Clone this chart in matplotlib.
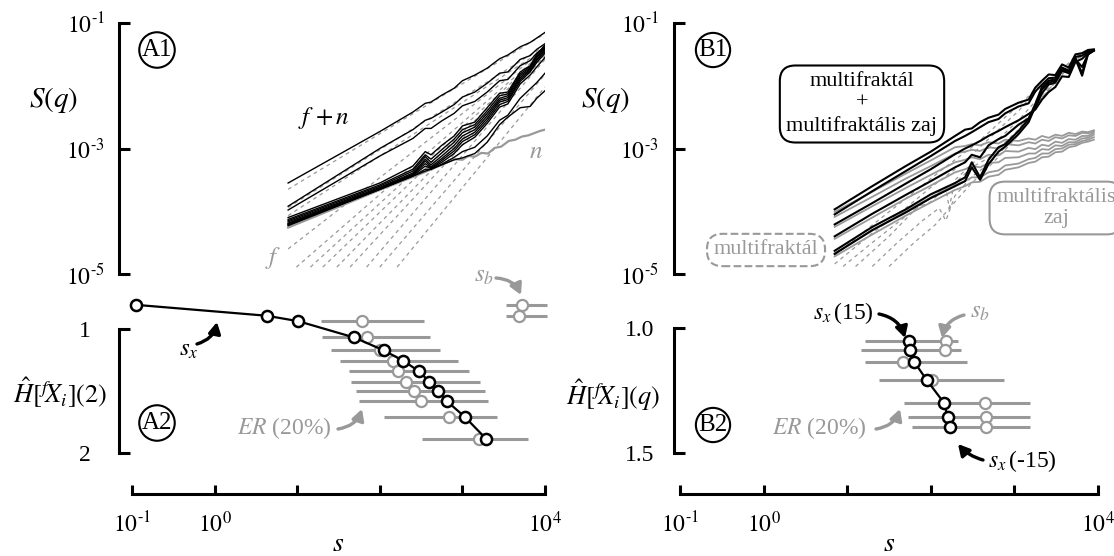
import numpy as np
import matplotlib
matplotlib.use('Agg')
import matplotlib.pyplot as plt
from matplotlib.patches import FancyArrowPatch
from matplotlib.ticker import NullLocator

plt.rcParams['font.family'] = ['Liberation Serif', 'DejaVu Serif']
plt.rcParams['mathtext.fontset'] = 'stix'

GRAY = '#999999'
W, H = 1114, 556

# ---- panel A1 : log10(s) grid and log10 S(q) of the f+n series ----
ls_A = [0.89, 2.0, 2.4, 2.55, 2.62, 2.75, 2.9, 3.0, 3.15, 3.3, 3.45, 3.55, 3.7, 3.82, 3.9, 4.0]
fn_A = [
    [-3.55, -2.73, -2.42, -2.28, -2.26, -2.15, -2.04, -1.92, -1.83, -1.72, -1.57, -1.51, -1.38, -1.31, -1.24, -1.15],
    [-3.92, -3.00, -2.70, -2.55, -2.52, -2.42, -2.30, -2.18, -2.10, -1.96, -1.80, -1.78, -1.58, -1.52, -1.42, -1.33],
    [-3.98, -3.12, -2.84, -2.68, -2.68, -2.56, -2.44, -2.32, -2.25, -2.10, -1.92, -1.90, -1.68, -1.60, -1.48, -1.38],
    [-4.10, -3.55, -3.28, -3.05, -3.10, -2.95, -2.80, -2.64, -2.58, -2.35, -2.12, -2.10, -1.78, -1.68, -1.50, -1.35],
    [-4.13, -3.58, -3.33, -3.10, -3.17, -3.02, -2.85, -2.70, -2.62, -2.40, -2.16, -2.13, -1.81, -1.70, -1.53, -1.38],
    [-4.15, -3.60, -3.36, -3.13, -3.22, -3.07, -2.90, -2.75, -2.66, -2.44, -2.20, -2.16, -1.84, -1.72, -1.55, -1.40],
    [-4.17, -3.62, -3.39, -3.17, -3.26, -3.12, -2.95, -2.80, -2.70, -2.48, -2.23, -2.19, -1.87, -1.74, -1.58, -1.42],
    [-4.19, -3.63, -3.41, -3.20, -3.29, -3.16, -3.00, -2.85, -2.74, -2.52, -2.26, -2.22, -1.90, -1.76, -1.60, -1.45],
    [-4.20, -3.64, -3.42, -3.24, -3.31, -3.19, -3.04, -2.89, -2.78, -2.56, -2.30, -2.25, -1.93, -1.78, -1.63, -1.48],
    [-4.21, -3.65, -3.43, -3.28, -3.32, -3.22, -3.08, -2.94, -2.82, -2.60, -2.34, -2.29, -1.97, -1.83, -1.70, -1.55],
    [-4.22, -3.65, -3.44, -3.33, -3.33, -3.25, -3.14, -3.05, -2.98, -2.80, -2.55, -2.47, -2.20, -2.05, -1.95, -1.80],
    [-4.23, -3.65, -3.44, -3.36, -3.33, -3.26, -3.18, -3.15, -3.08, -2.90, -2.62, -2.50, -2.35, -2.33, -2.20, -2.08],
]
# noise n
ls_nA = [0.89, 2.0, 2.5, 2.91, 3.0, 3.07, 3.15, 3.23, 3.31, 3.39, 3.47, 3.56, 3.64, 3.72, 3.80, 3.88, 3.94, 4.0]
n_A = [-4.26, -3.66, -3.40, -3.17, -3.18, -3.12, -3.13, -3.07, -3.08, -2.99, -2.97, -2.88, -2.86, -2.81, -2.79, -2.75, -2.72, -2.70]
# fitted f lines (start / end)
fA_ls0 = [0.89, 0.89, 0.89, 0.89, 0.99, 1.16, 1.31, 1.48, 1.64, 1.84, 2.00, 2.21]
fA_lS0 = [-3.65, -3.94, -4.07, -4.60, -4.89, -4.89, -4.89, -4.89, -4.89, -4.89, -4.89, -4.89]
fA_ls1 = [4.0, 4.0, 4.0, 4.0, 4.0, 4.0, 4.0, 4.0, 4.0, 4.0, 4.0, 4.0]
fA_lS1 = [-1.17, -1.36, -1.41, -1.42, -1.44, -1.46, -1.48, -1.50, -1.52, -1.58, -1.82, -2.02]

# ---- panel A2 ----
H_A = [0.805, 0.893, 0.937, 1.068, 1.173, 1.257, 1.341, 1.425, 1.50, 1.583, 1.71, 1.885]
sx_A = [-0.955, 0.631, 1.013, 1.688, 2.051, 2.285, 2.475, 2.599, 2.701, 2.814, 3.031, 3.286]
sb_A = [3.718, 3.689, 1.788, 1.849, 2.002, 2.156, 2.224, 2.317, 2.414, 2.495, 2.838, 3.205]
erA_lo = [3.528, 3.528, 1.288, 1.297, 1.409, 1.518, 1.627, 1.651, 1.712, 1.752, 2.054, 2.507]
erA_hi = [4.03, 4.03, 2.535, 2.608, 2.729, 2.950, 3.080, 3.213, 3.274, 3.314, 3.415, 3.798]

# ---- panel B1 ----
ls_B = [0.85, 1.3, 1.7, 2.0, 2.29, 2.41, 2.49, 2.59, 2.69, 2.81, 2.89, 3.05, 3.17, 3.25,
        3.33, 3.41, 3.49, 3.57, 3.65, 3.73, 3.81, 3.88, 3.95]
fn_B = [
    [-3.97, -3.60, -3.28, -3.05, -2.80, -2.70, -2.68, -2.58, -2.51, -2.46, -2.37, -2.27, -2.22, -2.03, -1.92, -1.82, -1.83, -1.66, -1.71, -1.50, -1.48, -1.43, -1.42],
    [-4.05, -3.68, -3.36, -3.12, -2.88, -2.80, -2.74, -2.66, -2.58, -2.53, -2.44, -2.33, -2.28, -2.09, -1.98, -1.88, -1.87, -1.71, -1.76, -1.54, -1.52, -1.45, -1.43],
    [-4.21, -3.87, -3.56, -3.33, -3.09, -3.00, -2.95, -2.88, -2.80, -2.72, -2.66, -2.55, -2.45, -2.38, -2.22, -2.10, -2.02, -1.85, -1.86, -1.62, -1.57, -1.48, -1.44],
    [-4.40, -4.04, -3.74, -3.52, -3.30, -3.22, -3.10, -3.14, -2.95, -2.85, -2.80, -2.62, -2.52, -2.35, -2.12, -1.98, -1.95, -1.76, -1.80, -1.58, -1.70, -1.50, -1.44],
    [-4.63, -4.25, -3.97, -3.73, -3.55, -3.46, -3.22, -3.46, -3.18, -2.98, -2.93, -2.72, -2.53, -2.29, -2.02, -1.92, -1.90, -1.72, -1.78, -1.56, -1.80, -1.48, -1.43],
    [-4.68, -4.30, -4.02, -3.79, -3.60, -3.52, -3.30, -3.50, -3.25, -3.05, -2.97, -2.77, -2.58, -2.33, -2.06, -1.95, -1.92, -1.74, -1.79, -1.57, -1.84, -1.50, -1.44],
]
n_B = [
    [-4.01, -3.69, -3.40, -3.19, -2.98, -2.96, -2.93, -2.95, -2.90, -2.92, -2.86, -2.88, -2.84, -2.86, -2.80, -2.83, -2.78, -2.80, -2.75, -2.77, -2.73, -2.74, -2.71],
    [-4.09, -3.77, -3.48, -3.28, -3.08, -3.05, -3.02, -3.04, -2.98, -3.00, -2.93, -2.95, -2.90, -2.92, -2.86, -2.88, -2.82, -2.84, -2.79, -2.80, -2.75, -2.76, -2.73],
    [-4.25, -3.92, -3.63, -3.42, -3.22, -3.18, -3.14, -3.17, -3.10, -3.11, -3.04, -3.05, -2.99, -3.01, -2.94, -2.96, -2.89, -2.91, -2.85, -2.86, -2.80, -2.80, -2.75],
    [-4.44, -4.10, -3.80, -3.59, -3.38, -3.33, -3.28, -3.30, -3.23, -3.22, -3.15, -3.14, -3.08, -3.08, -3.01, -3.02, -2.95, -2.96, -2.90, -2.90, -2.84, -2.83, -2.78],
    [-4.67, -4.31, -4.00, -3.78, -3.58, -3.52, -3.46, -3.46, -3.38, -3.35, -3.27, -3.24, -3.17, -3.15, -3.08, -3.08, -3.01, -3.00, -2.94, -2.93, -2.88, -2.86, -2.82],
    [-4.72, -4.37, -4.07, -3.86, -3.66, -3.60, -3.54, -3.53, -3.45, -3.42, -3.34, -3.30, -3.23, -3.21, -3.14, -3.13, -3.06, -3.05, -2.98, -2.96, -2.91, -2.89, -2.86],
]
f_B_ls = [
    [0.85, 1.3, 1.7, 2.0, 2.29, 2.49, 2.69, 2.89, 3.05, 3.25, 3.49, 3.73, 3.95],
    [0.85, 1.3, 1.7, 2.0, 2.29, 2.49, 2.69, 2.89, 3.05, 3.25, 3.49, 3.73, 3.95],
    [0.95, 1.3, 1.7, 2.0, 2.18, 2.22, 2.29, 2.49, 2.69, 2.89, 3.05, 3.25, 3.49, 3.73, 3.95],
    [1.1, 1.5, 1.83, 2.0, 2.18, 2.29, 2.49, 2.69, 2.89, 3.05, 3.25, 3.49, 3.73, 3.95],
    [1.3, 1.6, 1.9, 2.1, 2.18, 2.29, 2.49, 2.69, 2.89, 3.05, 3.25, 3.49, 3.73, 3.95],
    [1.5, 1.8, 2.05, 2.29, 2.49, 2.69, 2.89, 3.05, 3.25, 3.49, 3.73, 3.95],
]
f_B = [
    [-4.70, -4.22, -3.80, -3.48, -3.18, -2.98, -2.75, -2.50, -2.32, -2.06, -1.85, -1.53, -1.43],
    [-4.84, -4.35, -3.95, -3.62, -3.33, -3.10, -2.85, -2.60, -2.40, -2.10, -1.88, -1.56, -1.43],
    [-4.88, -4.50, -4.08, -3.78, -3.62, -3.95, -3.50, -3.25, -3.00, -2.75, -2.55, -2.25, -1.92, -1.58, -1.44],
    [-4.88, -4.40, -3.95, -3.85, -3.62, -3.55, -3.30, -3.15, -2.90, -2.70, -2.30, -1.95, -1.58, -1.44],
    [-4.88, -4.50, -4.15, -3.95, -4.15, -3.75, -3.45, -3.25, -2.98, -2.75, -2.32, -1.93, -1.57, -1.43],
    [-4.88, -4.50, -4.22, -3.85, -3.55, -3.30, -3.02, -2.78, -2.33, -1.93, -1.57, -1.43],
]

# ---- panel B2 ----
H_B = [1.053, 1.089, 1.135, 1.208, 1.301, 1.356, 1.395]
sx_B = [1.745, 1.755, 1.80, 1.95, 2.16, 2.20, 2.235]
sb_B = [2.18, 2.17, 1.67, 2.01, 2.65, 2.66, 2.66]
erB_lo = [1.21, 1.17, 1.21, 1.38, 1.68, 1.73, 1.78]
erB_hi = [2.33, 2.36, 2.43, 2.87, 3.19, 3.19, 3.19]


def p(a):
    return 10 ** np.asarray(a, dtype=float)


def fp(x, y):
    # pixel position (from top-left) to figure fraction
    return (x / W, 1 - y / H)


def pow_label(k):
    # hyphen instead of the long minus sign, as in the original
    return r'$10^{\text{-}%d}$' % -k if k < 0 else r'$10^{%d}$' % k


fig = plt.figure(figsize=(W / 100, H / 100), dpi=100)


def make_axes(x0, x1, off, hlim, hticks, hlabels, pads):
    top = fig.add_axes([x0 / W, (H - 274) / H, (x1 - x0) / W, 251 / H])
    bot = fig.add_axes([x0 / W, (H - 494) / H, (x1 - x0) / W, 214 / H])
    for ax in (top, bot):
        ax.set_xscale('log')
        ax.set_xlim(1e-1, 1e4)
        ax.patch.set_visible(False)
        ax.spines['top'].set_visible(False)
        ax.spines['right'].set_visible(False)
        ax.spines['left'].set_position(('outward', off))
        ax.spines['left'].set_linewidth(2.2)
        ax.xaxis.set_minor_locator(NullLocator())
    top.set_yscale('log')
    top.set_ylim(1e-5, 1e-1)
    top.yaxis.set_minor_locator(NullLocator())
    top.set_yticks([1e-5, 1e-3, 1e-1])
    top.set_yticklabels([pow_label(-5), pow_label(-3), pow_label(-1)])
    top.spines['bottom'].set_visible(False)
    top.tick_params(axis='x', which='both', bottom=False, labelbottom=False)
    top.tick_params(axis='y', direction='in', length=8, width=2.2, labelsize=17, pad=pads[0])

    bot.set_ylim(*hlim)
    bot.set_yticks(hticks)
    bot.set_yticklabels(hlabels)
    bot.spines['left'].set_bounds(hticks[0], hticks[-1])
    bot.tick_params(axis='y', direction='in', length=8, width=2.2, labelsize=17, pad=pads[1])
    bot.spines['bottom'].set_linewidth(2.2)
    bot.set_xticks([1e-1, 1, 10, 100, 1e3, 1e4])
    bot.set_xticklabels([pow_label(-1), pow_label(0), '', '', '', pow_label(4)])
    bot.tick_params(axis='x', direction='in', length=6.5, width=2.2, labelsize=17, pad=13)
    bot.set_xlabel(r'$s$', fontsize=20, labelpad=-4)
    return top, bot


topA, botA = make_axes(132, 545, 9.4, (2.3306, 0.6048), [1, 2], ['1', '2'], (10, 20))
topB, botB = make_axes(680, 1098, 4.3, (1.6656, 0.8075), [1.0, 1.5], ['1.0', '1.5'], (11, 14))

# ---- A1 ----
topA.plot(p([fA_ls0, fA_ls1]), p([fA_lS0, fA_lS1]), color=GRAY, lw=0.9, ls=(0, (3, 3)), zorder=1)
topA.plot(p(ls_nA), p(n_A), color=GRAY, lw=1.6, zorder=2)
for curve in fn_A:
    topA.plot(p(ls_A), p(curve), color='k', lw=1.0, zorder=3)

# ---- B1 ----
for xs, ys in zip(f_B_ls, f_B):
    topB.plot(p(xs), p(ys), color=GRAY, lw=0.9, ls=(0, (3, 3)), zorder=1)
for curve in n_B:
    topB.plot(p(ls_B), p(curve), color=GRAY, lw=1.3, zorder=2)
for curve in fn_B:
    topB.plot(p(ls_B), p(curve), color='k', lw=1.5, zorder=3)


# ---- A2 / B2 ----
def h_panel(ax, Hv, sx, sb, lo, hi):
    ax.hlines(Hv, p(lo), p(hi), color=GRAY, lw=2.2, zorder=1, clip_on=False)
    ax.plot(p(sb), Hv, 'o', ms=8, mfc='white', mec=GRAY, mew=1.6, ls='none', zorder=2, clip_on=False)
    ax.plot(p(sx), Hv, '-o', color='k', lw=1.6, ms=8, mfc='white', mec='k', mew=1.8, zorder=3, clip_on=False)


h_panel(botA, H_A, sx_A, sb_A, erA_lo, erA_hi)
h_panel(botB, H_B, sx_B, sb_B, erB_lo, erB_hi)

# ---- axis names ----
fig.text(*fp(54, 100), r'$S(q)$', fontsize=21, ha='center', va='center')
fig.text(*fp(606, 100), r'$S(q)$', fontsize=21, ha='center', va='center')
fig.text(*fp(60, 393), r'$\hat{H}[^{f}\!X_{i}](2)$', fontsize=19, ha='center', va='center')
fig.text(*fp(613, 395), r'$\hat{H}[^{f}\!X_{i}](q)$', fontsize=19, ha='center', va='center')

# ---- panel tags ----
for tag, (x, y) in {'A1': (157, 50), 'A2': (157, 423), 'B1': (713, 50), 'B2': (713, 425)}.items():
    fig.text(*fp(x, y), tag, fontsize=18, ha='center', va='center',
             bbox=dict(boxstyle='circle,pad=0.1', fc='white', ec='k', lw=1.5))

# ---- A1 labels ----
fig.text(*fp(324, 118), r'$f\,+n$', fontsize=18, ha='center', va='center')
fig.text(*fp(536, 152), r'$n$', fontsize=18, color=GRAY, ha='center', va='center')
fig.text(*fp(273, 258), r'$f$', fontsize=18, color=GRAY, ha='center', va='center')

# ---- B1 boxes ----
fig.text(*fp(862, 104), 'multifraktál\n+\nmultifraktális zaj', fontsize=16, ha='center', va='center',
         linespacing=1.2, zorder=10,
         bbox=dict(boxstyle='round,pad=0.3,rounding_size=0.7', fc='white', ec='k', lw=1.5))
fig.text(*fp(1056, 208), 'multifraktális\nzaj', fontsize=16, color=GRAY, ha='center', va='center',
         linespacing=1.1, zorder=10,
         bbox=dict(boxstyle='round,pad=0.3,rounding_size=0.7', fc='white', ec=GRAY, lw=1.5))
fig.text(*fp(766, 250), 'multifraktál', fontsize=16, color=GRAY, ha='center', va='center', zorder=10,
         bbox=dict(boxstyle='round,pad=0.3,rounding_size=0.7', fc='white', ec=GRAY, lw=1.5, ls='--'))


# ---- annotations with curved arrows ----
def arrow(start, end, color, rad):
    fig.add_artist(FancyArrowPatch(
        fp(*start), fp(*end), transform=fig.transFigure, color=color, lw=2.4,
        arrowstyle='-|>,head_length=0.55,head_width=0.3', mutation_scale=12,
        connectionstyle='arc3,rad=%s' % rad, shrinkA=0, shrinkB=0))


fig.text(*fp(189, 350), r'$s_x$', fontsize=18, ha='center', va='center')
arrow((197, 344), (217, 322), 'k', 0.3)
fig.text(*fp(284, 428), r'$ER$ (20%)', fontsize=17, color=GRAY, ha='center', va='center')
arrow((338, 429), (362, 409), GRAY, 0.3)
fig.text(*fp(484, 276), r'$s_b$', fontsize=18, color=GRAY, ha='center', va='center')
arrow((496, 278), (521, 295), GRAY, -0.3)

fig.text(*fp(843, 313), r'$s_x\,$(15)', fontsize=17, ha='center', va='center')
arrow((879, 314), (905, 338), 'k', -0.3)
fig.text(*fp(980, 312), r'$s_b$', fontsize=18, color=GRAY, ha='center', va='center')
arrow((964, 315), (942, 338), GRAY, 0.3)
fig.text(*fp(819, 428), r'$ER$ (20%)', fontsize=17, color=GRAY, ha='center', va='center')
arrow((876, 429), (900, 409), GRAY, 0.3)
fig.text(*fp(1022, 461), r'$s_x\,$(-15)', fontsize=17, ha='center', va='center')
arrow((983, 460), (958, 444), 'k', -0.15)

fig.savefig('out.png', dpi=100)
